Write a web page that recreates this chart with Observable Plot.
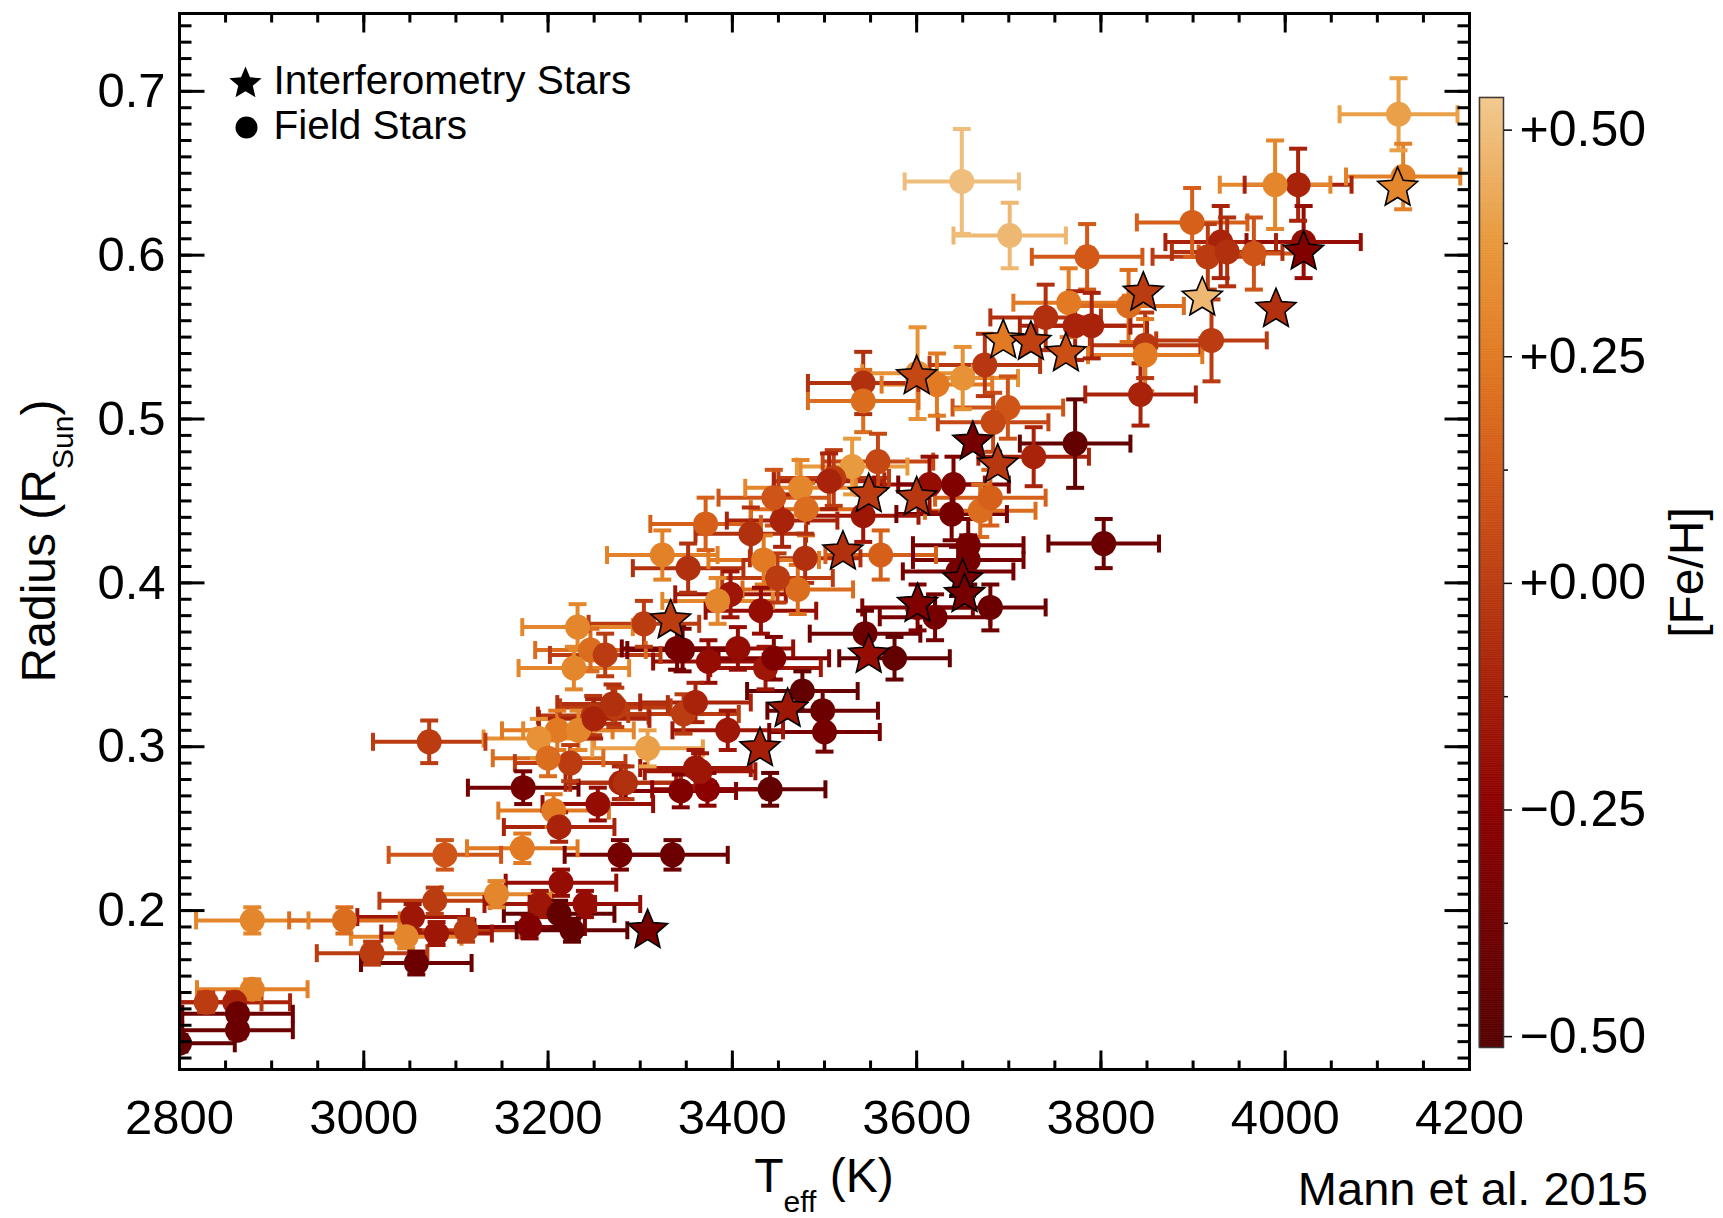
<!DOCTYPE html>
<html>
<head>
<meta charset="utf-8">
<script src="https://cdn.jsdelivr.net/npm/d3@7"></script>
<script src="https://cdn.jsdelivr.net/npm/@observablehq/plot@0.6"></script>
<style>
  html, body { margin: 0; padding: 0; background: white; overflow: hidden; }
  #wrap { position: relative; width: 1723px; height: 1218px; }
  #wrap svg { position: absolute; top: 0; }
</style>
</head>
<body>
<div id="wrap"></div>
<script>
// ---------------- data ----------------
const fieldTeff = [
  4123,4128,4014,3989,3899,3930,3916,3937,3966,4020,
  3785,3649,3701,3920,3848,3848,3843,3765,3740,3772,
  3790,3830,3772,3803,3727,3699,3683,3674,3650,3622,
  3601,3542,3542,3558,3530,3510,3614,3640,3638,3669,
  3542,3680,3561,3656,3656,3645,3680,3620,3601,3544,
  3576,3505,3474,3454,3371,3324,3352,3398,3431,3384,
  3471,3479,3434,3449,3304,3232,3246,3262,3228,3346,
  3374,3406,3436,3445,3476,3498,3500,3441,3395,3347,
  3360,3308,3273,3249,3210,3233,3224,3279,3344,3373,
  3360,3173,3206,3254,3071,3250,3212,3088,3172,3278,
  3335,3214,3077,3144,3191,3240,3212,3053,3111,3079,
  3226,3180,2879,2979,3009,3046,3057,2879,2829,2860,
  2863,2863,2800,3365,3284,3445,3480,3420,3190,3200,3270,3340
];
const fieldRadius = [
  0.686,0.648,0.643,0.643,0.620,0.608,0.599,0.602,0.601,0.608,
  0.599,0.645,0.612,0.548,0.545,0.539,0.515,0.571,0.562,0.557,
  0.557,0.569,0.485,0.424,0.477,0.507,0.498,0.533,0.525,0.521,
  0.528,0.522,0.511,0.474,0.471,0.464,0.460,0.460,0.442,0.444,
  0.441,0.452,0.417,0.423,0.414,0.407,0.385,0.379,0.385,0.369,
  0.354,0.462,0.458,0.438,0.436,0.417,0.409,0.393,0.383,0.389,
  0.396,0.415,0.414,0.403,0.375,0.373,0.359,0.356,0.348,0.359,
  0.352,0.360,0.348,0.354,0.334,0.322,0.309,0.274,0.310,0.320,
  0.327,0.299,0.324,0.319,0.310,0.310,0.290,0.278,0.273,0.274,
  0.287,0.275,0.261,0.265,0.303,0.317,0.251,0.234,0.238,0.234,
  0.234,0.217,0.206,0.210,0.204,0.204,0.198,0.196,0.188,0.186,
  0.188,0.190,0.194,0.194,0.174,0.184,0.168,0.152,0.144,0.144,
  0.137,0.127,0.119,0.285,0.278,0.452,0.445,0.430,0.305,0.293,0.326,0.360
];
const fieldFeH = [
  0.40,0.28,-0.10,0.30,0.15,-0.10,0.00,-0.05,0.10,-0.20,
  0.12,0.50,0.48,0.00,-0.02,0.25,-0.10,0.25,-0.05,-0.10,
  -0.10,0.20,-0.45,-0.40,-0.10,0.10,0.05,-0.02,0.35,0.25,
  0.35,-0.05,0.20,0.05,0.38,0.00,-0.20,-0.30,-0.35,0.20,
  -0.15,0.15,0.15,-0.35,-0.35,-0.35,-0.40,-0.35,-0.30,-0.40,
  -0.45,-0.10,0.30,-0.10,0.15,0.28,-0.05,-0.15,-0.20,0.30,
  0.20,-0.05,0.25,0.00,0.00,0.30,0.20,0.00,0.30,-0.35,
  -0.20,-0.20,-0.15,-0.30,-0.45,-0.40,-0.35,-0.45,-0.15,0.00,
  -0.10,0.40,0.00,-0.02,0.25,0.30,0.00,-0.10,-0.30,-0.25,
  -0.15,-0.35,0.25,-0.20,0.00,-0.10,-0.10,0.10,0.25,-0.35,
  -0.40,-0.20,0.00,0.30,-0.15,-0.20,-0.45,-0.15,0.00,-0.15,
  -0.45,-0.30,0.30,0.20,0.00,0.30,-0.40,0.28,0.00,-0.10,
  -0.40,-0.40,-0.45,-0.15,-0.05,0.10,0.20,-0.05,0.35,0.20,-0.05,-0.35
];
const fieldTeffErr = [
  64,62,58,60,60,60,60,60,60,62,
  60,62,61,60,60,62,60,60,60,60,
  60,60,60,60,60,60,60,60,60,60,
  60,60,60,60,60,60,60,60,60,60,
  60,60,60,60,60,60,60,60,60,60,
  60,60,60,60,60,60,60,60,60,60,
  60,60,60,60,60,60,60,60,60,60,
  60,60,60,60,60,60,60,60,60,60,
  60,60,60,60,60,60,60,60,60,60,
  60,60,60,60,61,60,60,61,60,60,
  60,60,60,60,60,60,60,60,60,60,
  60,60,61,60,60,60,60,60,60,60,
  60,60,60,60,60,60,60,60,60,60,60,60
];
const fieldRadiusErr = [
  0.022,0.020,0.022,0.027,0.021,0.022,0.020,0.021,0.022,0.022,
  0.020,0.032,0.020,0.025,0.020,0.022,0.019,0.021,0.020,0.021,
  0.020,0.022,0.027,0.015,0.018,0.019,0.018,0.019,0.019,0.019,
  0.028,0.019,0.019,0.017,0.017,0.017,0.017,0.017,0.016,0.016,
  0.016,0.017,0.015,0.016,0.015,0.015,0.014,0.014,0.014,0.014,
  0.013,0.017,0.017,0.016,0.016,0.015,0.015,0.014,0.014,0.014,
  0.015,0.015,0.015,0.015,0.014,0.014,0.013,0.013,0.013,0.013,
  0.013,0.013,0.013,0.013,0.012,0.012,0.012,0.010,0.012,0.012,
  0.012,0.011,0.012,0.012,0.012,0.012,0.011,0.010,0.010,0.010,
  0.011,0.010,0.010,0.010,0.013,0.012,0.009,0.009,0.009,0.009,
  0.009,0.008,0.008,0.008,0.008,0.008,0.008,0.008,0.007,0.007,
  0.007,0.007,0.008,0.008,0.007,0.007,0.007,0.006,0.006,0.006,
  0.005,0.005,0.005,0.011,0.010,0.017,0.016,0.016,0.012,0.011,0.012,0.013
];
const starTeff   = [4122,4020,3990,3910,3846,3694,3724,3762,3600,3661,3688,3548,3600,3520,3650,3652,3601,3333,3548,3460,3430,3308];
const starRadius = [0.641,0.602,0.567,0.574,0.577,0.548,0.547,0.540,0.526,0.486,0.472,0.454,0.452,0.419,0.402,0.393,0.387,0.377,0.356,0.323,0.299,0.188];
const starFeH    = [0.30,-0.30,-0.05,0.48,0.00,0.25,0.02,0.08,0.05,-0.35,-0.02,0.00,-0.02,-0.05,-0.35,-0.35,-0.30,0.00,-0.20,-0.15,-0.12,-0.35];

const xTickLabels = [2800, 3000, 3200, 3400, 3600, 3800, 4000, 4200];
const yTickLabels = [0.2, 0.3, 0.4, 0.5, 0.6, 0.7];
const cbTickLabels = [-0.5, -0.25, 0, 0.25, 0.5];
const cbMinorTicks = [-0.375, -0.125, 0.125, 0.375];

const feStops  = [-0.512, -0.5, -0.375, -0.25, -0.125, 0, 0.125, 0.25, 0.375, 0.5, 0.536];
const feColors = ["#550000","#590000","#710000","#8c0000","#a31d08","#bb3c11","#d35a18","#e17a22","#e8983b","#efbe7c","#f2c98f"];

// ---------------- build ----------------
const FONT = "'Liberation Sans', Arial, Helvetica, sans-serif";
const field = fieldTeff.map((t, i) => ({T: t, R: fieldRadius[i], fe: fieldFeH[i], xe: fieldTeffErr[i], ye: fieldRadiusErr[i]}));
const stars = starTeff.map((t, i) => ({T: t, R: starRadius[i], fe: starFeH[i]}));

const colorScale = {type: "linear", domain: feStops, range: feColors, interpolate: "rgb", clamp: true};

const seg = (dx, dy) => ({draw(ctx) { ctx.moveTo(0, 0); ctx.lineTo(dx, dy); }});
const vcap = {draw(ctx) { ctx.moveTo(0, -9); ctx.lineTo(0, 9); }};
const hcap = {draw(ctx) { ctx.moveTo(-9, 0); ctx.lineTo(9, 0); }};
const starSym = {draw(ctx, size) {
  const R = Math.sqrt(size / Math.PI), r = R * 0.45;
  for (let k = 0; k < 10; k++) {
    const rad = k % 2 ? r : R;
    const a = -Math.PI / 2 + k * Math.PI / 5;
    const x = rad * Math.cos(a), y = rad * Math.sin(a);
    if (k) ctx.lineTo(x, y); else ctx.moveTo(x, y);
  }
  ctx.closePath();
}};

const xMinor = d3.range(2850, 4200, 50);
const yMinor = d3.range(11, 75).map(d => d / 100);

const tickDot = (data, ch, anchor, sym, w = 3) =>
  Plot.dot(data, {[ch]: d => d, frameAnchor: anchor, symbol: sym, stroke: "black", strokeWidth: w, fill: "none"});

const main = Plot.plot({
  width: 1723, height: 1218,
  marginLeft: 179, marginRight: 254, marginTop: 13, marginBottom: 149,
  style: {fontFamily: FONT, fontSize: "49px", color: "black", background: "white"},
  x: {domain: [2800, 4200]},
  y: {domain: [0.103, 0.7475]},
  color: colorScale,
  marks: [
    // error bars
    Plot.ruleY(field, {y: "R", x1: d => d.T - d.xe, x2: d => d.T + d.xe, stroke: "fe", strokeWidth: 4, clip: true}),
    Plot.ruleX(field, {x: "T", y1: d => d.R - d.ye, y2: d => d.R + d.ye, stroke: "fe", strokeWidth: 4, clip: true}),
    Plot.dot(field, {x: d => d.T - d.xe, y: "R", symbol: vcap, stroke: "fe", strokeWidth: 4, fill: "none", clip: true}),
    Plot.dot(field, {x: d => d.T + d.xe, y: "R", symbol: vcap, stroke: "fe", strokeWidth: 4, fill: "none", clip: true}),
    Plot.dot(field, {x: "T", y: d => d.R - d.ye, symbol: hcap, stroke: "fe", strokeWidth: 4, fill: "none", clip: true}),
    Plot.dot(field, {x: "T", y: d => d.R + d.ye, symbol: hcap, stroke: "fe", strokeWidth: 4, fill: "none", clip: true}),
    // field stars
    Plot.dot(field, {x: "T", y: "R", r: 12.5, fill: "fe", clip: true}),
    // interferometry stars
    Plot.dot(stars, {x: "T", y: "R", r: 21, symbol: starSym, fill: "fe", stroke: "black", strokeWidth: 1.6}),
    // ticks (inward) on all four sides
    tickDot(xMinor, "x", "bottom", seg(0, -9)),
    tickDot(xTickLabels, "x", "bottom", seg(0, -19)),
    tickDot(xMinor, "x", "top", seg(0, 9)),
    tickDot(xTickLabels, "x", "top", seg(0, 19)),
    tickDot(yMinor, "y", "left", seg(12, 0)),
    tickDot(yTickLabels, "y", "left", seg(25, 0)),
    tickDot(yMinor, "y", "right", seg(-12, 0)),
    tickDot(yTickLabels, "y", "right", seg(-25, 0)),
    Plot.axisX({anchor: "bottom", ticks: xTickLabels, tickSize: 0, tickPadding: 30, tickFormat: d3.format("d"), fontSize: 49, label: null}),
    Plot.axisY({anchor: "left", ticks: yTickLabels, tickSize: 0, tickPadding: 14, tickFormat: d3.format(".1f"), fontSize: 49, label: null}),
    Plot.frame({stroke: "black", strokeWidth: 3}),
    // legend
    Plot.dot(["Interferometry Stars"], {frameAnchor: "top-left", dx: 66, dy: 70, r: 17, symbol: starSym, fill: "black"}),
    Plot.dot(["Field Stars"], {frameAnchor: "top-left", dx: 67, dy: 114, r: 11, fill: "black"}),
    Plot.text(["Interferometry Stars"], {frameAnchor: "top-left", dx: 94, dy: 68, textAnchor: "start", lineAnchor: "middle", fontSize: 40.5}),
    Plot.text(["Field Stars"], {frameAnchor: "top-left", dx: 94, dy: 113, textAnchor: "start", lineAnchor: "middle", fontSize: 40.5})
  ]
});
main.style.left = "0px";

// axis titles with subscripts, caption
const sv = d3.select(main);
const xt = sv.append("text").attr("x", 824).attr("y", 1192).attr("text-anchor", "middle")
  .attr("font-size", 48).attr("font-family", FONT).attr("fill", "black");
xt.append("tspan").text("T");
xt.append("tspan").attr("font-size", 30).attr("dy", 20).text("eff");
xt.append("tspan").attr("dy", -20).text(" (K)");

const yt = sv.append("text").attr("transform", "translate(55,541) rotate(-90)").attr("text-anchor", "middle")
  .attr("font-size", 48).attr("font-family", FONT).attr("fill", "black");
yt.append("tspan").text("Radius (R");
yt.append("tspan").attr("font-size", 30).attr("dy", 18).text("Sun");
yt.append("tspan").attr("dy", -18).text(")");

sv.append("text").attr("x", 1648).attr("y", 1205).attr("text-anchor", "end")
  .attr("font-size", 47).attr("font-family", FONT).attr("fill", "black").text("Mann et al. 2015");

// colour bar
const cbStep = 0.002;
const cbCells = d3.range(feStops[0], feStops[feStops.length - 1], cbStep);
const cbFmt = d => (d < 0 ? "\u2212" : "+") + Math.abs(d).toFixed(2);
const cbar = Plot.plot({
  width: 246, height: 1078,
  marginLeft: 2, marginRight: 220, marginTop: 97, marginBottom: 31,
  style: {fontFamily: FONT, fontSize: "50px", color: "black", background: "transparent"},
  x: {domain: [0, 1], axis: null},
  y: {domain: [feStops[0], feStops[feStops.length - 1]], axis: null},
  color: colorScale,
  marks: [
    Plot.rect(cbCells, {x1: () => 0, x2: () => 1, y1: d => d, y2: d => Math.min(d + cbStep, feStops[feStops.length - 1]), fill: d => d + cbStep / 2, stroke: d => d + cbStep / 2, strokeWidth: 0.6}),
    Plot.frame({stroke: "#3a3a3a", strokeWidth: 1.5}),
    Plot.axisY({anchor: "right", ticks: cbTickLabels, tickSize: 8, tickPadding: 8, tickFormat: cbFmt, fontSize: 50, strokeWidth: 1.5, label: null}),
    Plot.axisY({anchor: "right", ticks: cbMinorTicks, tickSize: 4, tickFormat: () => "", strokeWidth: 1.5, label: null}),
    Plot.text(["[Fe/H]"], {frameAnchor: "right", dx: 184, rotate: -90, fontSize: 48, textAnchor: "middle", lineAnchor: "middle"})
  ]
});
cbar.style.left = "1477px";

const wrap = document.getElementById("wrap");
wrap.appendChild(main);
wrap.appendChild(cbar);
</script>
</body>
</html>
